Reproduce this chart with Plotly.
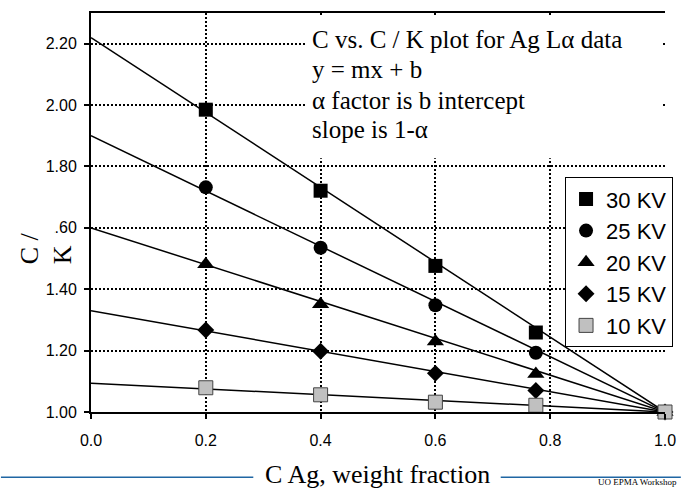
import plotly.graph_objects as go

# Weight fraction of Ag in each standard
c_ag = [0.2, 0.4, 0.6, 0.775, 1.0]

# Measured C / K ratios for each accelerating voltage
ck_30kv = [1.985, 1.721, 1.476, 1.259, 1.0]
ck_25kv = [1.732, 1.535, 1.348, 1.193, 1.0]
ck_20kv = [1.481, 1.351, 1.230, 1.124, 1.0]
ck_15kv = [1.267, 1.198, 1.126, 1.070, 1.0]
ck_10kv = [1.079, 1.056, 1.032, 1.022, 1.0]

# Alpha factors (b intercepts of the fitted lines); slope is 1 - alpha
alpha_30kv = 2.22
alpha_25kv = 1.90
alpha_20kv = 1.60
alpha_15kv = 1.33
alpha_10kv = 1.094

series_names = ["30 KV", "25 KV", "20 KV", "15 KV", "10 KV"]
fit_x = [0.0, 1.0]

y_ticks = [1.0, 1.2, 1.4, 1.6, 1.8, 2.0, 2.2]
y_tick_text = ["1.00", "1.20", "1.40", "1.60", "1.80", "2.00", "2.20"]
x_ticks = [0.0, 0.2, 0.4, 0.6, 0.8, 1.0]
x_tick_text = ["0.0", "0.2", "0.4", "0.6", "0.8", "1.0"]

note_lines = [
    "C vs. C / K plot for Ag L\u03b1 data",
    "y = mx + b",
    "\u03b1 factor is b intercept",
    "slope is 1-\u03b1",
]

W, H = 687, 490
L, R, T, B = 91, 671, 11, 412


def px(x):
    return (x - L) / (R - L)


def py(y):
    return (B - y) / (B - T)


values = [ck_30kv, ck_25kv, ck_20kv, ck_15kv, ck_10kv]
alphas = [alpha_30kv, alpha_25kv, alpha_20kv, alpha_15kv, alpha_10kv]
markers = [
    dict(symbol="square", size=14, color="black"),
    dict(symbol="circle", size=14, color="black"),
    dict(symbol="triangle-up", size=15, color="black"),
    dict(symbol="diamond", size=13, color="black"),
    dict(symbol="square", size=14, color="#c0c0c0", line=dict(color="#444444", width=1)),
]

fig = go.Figure()

# Fitted lines y = alpha + (1 - alpha) x
for name, a in zip(series_names, alphas):
    fig.add_trace(go.Scatter(
        x=fit_x, y=[a, a + (1 - a)], mode="lines",
        line=dict(color="black", width=1.5),
        showlegend=False, hoverinfo="skip",
    ))

# Measured points
for name, vals, mk in zip(series_names, values, markers):
    fig.add_trace(go.Scatter(
        x=c_ag, y=vals, mode="markers", name=name, marker=mk,
        cliponaxis=False, legendgroup=name,
    ))

tick_font = dict(family="Liberation Sans", size=16, color="black")
serif = "Liberation Serif"

fig.update_layout(
    width=W, height=H,
    margin=dict(l=L, r=W - R, t=T, b=H - B),
    paper_bgcolor="white", plot_bgcolor="white",
    xaxis=dict(
        range=[0, 1], tickvals=x_ticks, ticktext=x_tick_text,
        showgrid=True, gridcolor="black", gridwidth=1.5, griddash="2px,2px",
        showline=True, linecolor="black", linewidth=2, mirror=True,
        ticks="outside", ticklen=5, tickwidth=2, tickcolor="black",
        tickfont=tick_font, ticklabelstandoff=8, zeroline=False,
    ),
    yaxis=dict(
        range=[1.0, 2.3], tickvals=y_ticks, ticktext=y_tick_text,
        showgrid=True, gridcolor="black", gridwidth=1.5, griddash="2px,2px",
        showline=True, linecolor="black", linewidth=2,
        ticks="outside", ticklen=5, tickwidth=2, tickcolor="black",
        tickfont=tick_font, ticklabelstandoff=4, zeroline=False,
    ),
    legend=dict(
        x=px(570), y=py(176), xanchor="left", yanchor="top",
        bgcolor="white", bordercolor="black", borderwidth=1,
        font=dict(family="Liberation Sans", size=22, color="black"),
        itemwidth=30, tracegroupgap=0, traceorder="grouped",
    ),
    showlegend=True,
)

# White frame behind the note text (hides the grid there)
fig.add_shape(type="rect", xref="paper", yref="paper",
              x0=px(309), x1=px(667), y0=py(157), y1=py(14),
              fillcolor="white", line=dict(width=0), layer="above")

# Frame of the y title, which overlaps the leading digit of one tick label
fig.add_shape(type="rect", xref="paper", yref="paper",
              x0=px(38), x1=px(54), y0=py(236), y1=py(218),
              fillcolor="white", line=dict(width=0), layer="above")

for line, yc in zip(note_lines, [38, 68, 99, 128]):
    fig.add_annotation(
        xref="paper", yref="paper", x=px(312), y=py(yc), xanchor="left", yanchor="middle",
        text=line, showarrow=False,
        font=dict(family=serif, size=25, color="black"),
    )

# Axis titles
fig.add_annotation(
    xref="paper", yref="paper", x=px(46), y=py(247), xanchor="center", yanchor="middle",
    text="C /<br>K", textangle=-90, align="left", showarrow=False,
    font=dict(family=serif, size=26, color="black"),
)
fig.add_annotation(
    xref="paper", yref="paper", x=px(380), y=py(475), xanchor="center", yanchor="middle",
    text="C Ag, weight fraction", showarrow=False,
    font=dict(family=serif, size=26, color="black"),
)

# Rule either side of the x title
for x0, x1 in [(0, 255), (505, 687)]:
    fig.add_shape(type="line", xref="paper", yref="paper",
                  x0=px(x0), x1=px(x1), y0=py(477.7), y1=py(477.7),
                  line=dict(color="#1f66a3", width=1.5))

fig.add_annotation(
    xref="paper", yref="paper", x=px(685), y=py(475), xanchor="right", yanchor="top",
    text="UO EPMA Workshop", showarrow=False,
    font=dict(family=serif, size=9, color="black"),
)

fig.write_html("out.html")
